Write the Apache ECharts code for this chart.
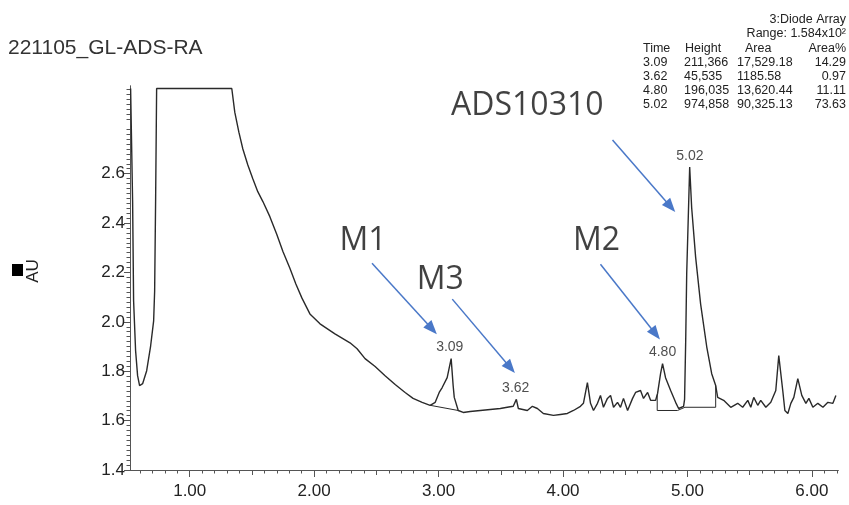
<!DOCTYPE html>
<html>
<head>
<meta charset="utf-8">
<title>221105_GL-ADS-RA</title>
<script src="https://cdn.jsdelivr.net/npm/echarts@6/dist/echarts.min.js"></script>
<style>
  html, body { margin: 0; padding: 0; background: #fff; }
  #chart { width: 849px; height: 505px; }
</style>
</head>
<body>
<div id="chart"></div>
<script>
// retention time (min) and absorbance (AU)
var times = [0.525,0.541,0.549,0.565,0.581,0.597,0.622,0.654,0.686,0.710,
  0.718,0.726,0.734,1.338,1.362,1.395,1.427,1.467,1.507,1.547,
  1.588,1.644,1.700,1.749,1.805,1.853,1.902,1.966,2.047,2.167,
  2.288,2.345,2.409,2.490,2.570,2.651,2.731,2.795,2.868,2.932,
  2.973,3.005,3.029,3.069,3.101,3.117,3.126,3.158,3.198,3.254,
  3.335,3.415,3.496,3.552,3.600,3.625,3.641,3.713,3.754,3.794,
  3.842,3.923,3.979,4.035,4.084,4.140,4.164,4.196,4.221,4.245,
  4.277,4.301,4.325,4.357,4.382,4.406,4.438,4.462,4.486,4.519,
  4.559,4.583,4.623,4.647,4.680,4.704,4.744,4.760,4.784,4.800,
  4.824,4.865,4.905,4.929,4.969,4.977,4.986,4.994,5.018,5.034,
  5.066,5.106,5.155,5.195,5.227,5.243,5.291,5.348,5.404,5.444,
  5.485,5.509,5.533,5.565,5.589,5.630,5.670,5.710,5.734,5.766,
  5.783,5.807,5.831,5.855,5.887,5.919,5.952,5.976,6.008,6.048,
  6.089,6.129,6.169,6.193];
var absorbance = [2.945,2.487,2.084,1.883,1.782,1.742,1.750,1.802,1.903,2.004,
  2.124,2.499,2.945,2.945,2.849,2.768,2.700,2.635,2.579,2.527,
  2.487,2.426,2.354,2.285,2.217,2.153,2.096,2.032,1.992,1.951,
  1.915,1.891,1.851,1.819,1.782,1.746,1.714,1.690,1.674,1.662,
  1.674,1.714,1.734,1.774,1.851,1.742,1.694,1.641,1.633,1.637,
  1.641,1.645,1.649,1.654,1.658,1.686,1.649,1.641,1.658,1.649,
  1.629,1.621,1.625,1.629,1.641,1.658,1.670,1.754,1.670,1.641,
  1.670,1.702,1.654,1.690,1.702,1.654,1.674,1.654,1.690,1.641,
  1.690,1.714,1.722,1.690,1.714,1.682,1.682,1.710,1.790,1.831,
  1.774,1.722,1.674,1.649,1.658,1.686,1.923,2.193,2.627,2.462,
  2.261,2.072,1.899,1.790,1.742,1.694,1.682,1.654,1.670,1.654,
  1.682,1.654,1.694,1.662,1.682,1.654,1.674,1.722,1.863,1.722,
  1.641,1.629,1.670,1.694,1.770,1.702,1.670,1.690,1.654,1.670,
  1.654,1.674,1.670,1.702];

// integrated peaks (apex) and their baselines
var peakTimes = [3.09, 3.62, 4.80, 5.02];
var peakTops = [1.851, 1.686, 1.831, 2.627];
var base1 = [[2.932, 1.662], [3.158, 1.641]];
var base2 = [[4.757, 1.705], [4.757, 1.641], [4.920, 1.641], [4.980, 1.654], [5.227, 1.654], [5.227, 1.742]];

// peak table
var tableHead = ['Time', 'Height', 'Area', 'Area%'];
var tableTime = ['3.09', '3.62', '4.80', '5.02'];
var tableHeight = ['211,366', '45,535', '196,035', '974,858'];
var tableArea = ['17,529.18', '1185.58', '13,620.44', '90,325.13'];
var tablePct = ['14.29', '0.97', '11.11', '73.63'];

// annotations: label position and arrow start/end in data units
var noteNames = ['M1', 'M3', 'M2', 'ADS10310'];
var noteX = [2.393, 3.013, 4.269, 3.713];
var noteY = [2.326, 2.169, 2.326, 2.873];
var arrowFrom = [[2.465, 2.237], [3.110, 2.092], [4.301, 2.233], [4.398, 2.736]];
var arrowTo = [[2.948, 1.971], [3.577, 1.814], [4.744, 1.951], [4.865, 2.466]];

var xMajor = [1, 2, 3, 4, 5, 6];
var yMajor = [1.4, 1.6, 1.8, 2.0, 2.2, 2.4, 2.6];

var xMin = 0.52, xMax = 6.21, yMin = 1.4, yMax = 2.955;
var xMinor = [], xHalf = [], yMinor = [];
for (var i = 6; i <= 62; i++) {
  if (i % 10 === 0) continue;
  if (i % 5 === 0) xHalf.push(i / 10); else xMinor.push(i / 10);
}
for (var j = 71; j <= 147; j++) {
  if (j % 10 === 0) continue;
  yMinor.push(j / 50);
}

var font = '"Liberation Sans", Arial, sans-serif';
var ink = '#222';
var axisColor = '#555';

function xAxisOf(ticks, len, labels) {
  return {
    type: 'value', min: xMin, max: xMax, position: 'bottom',
    axisLine: { show: true, lineStyle: { color: axisColor, width: 1 } },
    axisTick: { show: true, customValues: ticks, length: len, lineStyle: { color: axisColor } },
    axisLabel: labels ? {
      customValues: xMajor, margin: 13, color: ink, fontSize: 17, fontFamily: font,
      formatter: function (v) { return v.toFixed(2); }
    } : { show: false },
    splitLine: { show: false }
  };
}
function yAxisOf(ticks, len, labels) {
  return {
    type: 'value', min: yMin, max: yMax, position: 'left',
    axisLine: { show: true, lineStyle: { color: axisColor, width: 1 } },
    axisTick: { show: true, customValues: ticks, length: len, lineStyle: { color: axisColor } },
    axisLabel: labels ? {
      customValues: yMajor, margin: 5, color: ink, fontSize: 17, fontFamily: font,
      formatter: function (v) { return v.toFixed(1); }
    } : { show: false },
    splitLine: { show: false }
  };
}

var yMain = yAxisOf(yMajor, 6, true);
yMain.name = 'AU';
yMain.nameLocation = 'middle';
yMain.nameRotate = 90;
yMain.nameGap = 88;
yMain.nameTextStyle = { color: ink, fontSize: 17, fontFamily: font, padding: [0, 0, 0, 14] };

var graphics = [
  { type: 'text', left: 8, top: 38, style: { text: '221105_GL-ADS-RA', fill: '#333', font: '21px ' + font } },
  { type: 'rect', shape: { x: 12, y: 264, width: 11, height: 12 }, style: { fill: '#000' } }
];
function cell(text, x, y, align) {
  graphics.push({
    type: 'text', x: x, y: y,
    style: { text: text, fill: '#222', font: '12.5px ' + font, align: align, textAlign: align,
      verticalAlign: 'middle', textVerticalAlign: 'middle' }
  });
}
cell('3:Diode Array', 846, 20, 'right');
cell('Range: 1.584x10\u00B2', 846, 34, 'right');
cell(tableHead[0], 643, 49, 'left');
cell(tableHead[1], 685, 49, 'left');
cell(tableHead[2], 745, 49, 'left');
cell(tableHead[3], 846, 49, 'right');
for (var r = 0; r < tableTime.length; r++) {
  var ry = 63 + r * 14;
  cell(tableTime[r], 643, ry, 'left');
  cell(tableHeight[r], 684, ry, 'left');
  cell(tableArea[r], 737, ry, 'left');
  cell(tablePct[r], 846, ry, 'right');
}

var chart = echarts.init(document.getElementById('chart'), null, { renderer: 'canvas' });
chart.setOption({
  animation: false,
  backgroundColor: '#fff',
  grid: { left: 130, right: 11, top: 86, bottom: 35, containLabel: false },
  xAxis: [xAxisOf(xMajor, 7, true), xAxisOf(xHalf, 5, false), xAxisOf(xMinor, 3.5, false)],
  yAxis: [yMain, yAxisOf(yMinor, 3.5, false)],
  graphic: graphics,
  series: [
    {
      type: 'line', name: 'trace', showSymbol: false, symbol: 'none',
      lineStyle: { color: '#2a2a2a', width: 1.4 },
      data: times.map(function (t, k) { return [t, absorbance[k]]; })
    },
    {
      type: 'line', symbol: 'none', lineStyle: { color: '#2a2a2a', width: 1 }, data: base1
    },
    {
      type: 'line', symbol: 'none', lineStyle: { color: '#2a2a2a', width: 1 }, data: base2
    },
    {
      type: 'scatter', symbolSize: 0,
      label: { show: true, position: 'top', distance: 4, color: ink, fontSize: 14, fontFamily: font,
        formatter: function (p) { return p.value[0].toFixed(2); } },
      data: peakTimes.map(function (t, k) { return [t, peakTops[k]]; })
    },
    {
      type: 'scatter', symbolSize: 0,
      label: { show: true, position: 'inside', color: '#111', fontSize: 32, fontFamily: '"Open Sans", sans-serif',
        formatter: function (p) { return p.name; } },
      data: noteNames.map(function (n, k) { return { name: n, value: [noteX[k], noteY[k]] }; }),
      markLine: {
        silent: true, animation: false,
        symbol: ['none', 'triangle'], symbolSize: [11, 14],
        lineStyle: { color: '#4a78c8', width: 1.5, type: 'solid' },
        label: { show: false },
        data: arrowFrom.map(function (a, k) {
          return [{ coord: a }, { coord: arrowTo[k] }];
        })
      }
    }
  ]
});
</script>
</body>
</html>
